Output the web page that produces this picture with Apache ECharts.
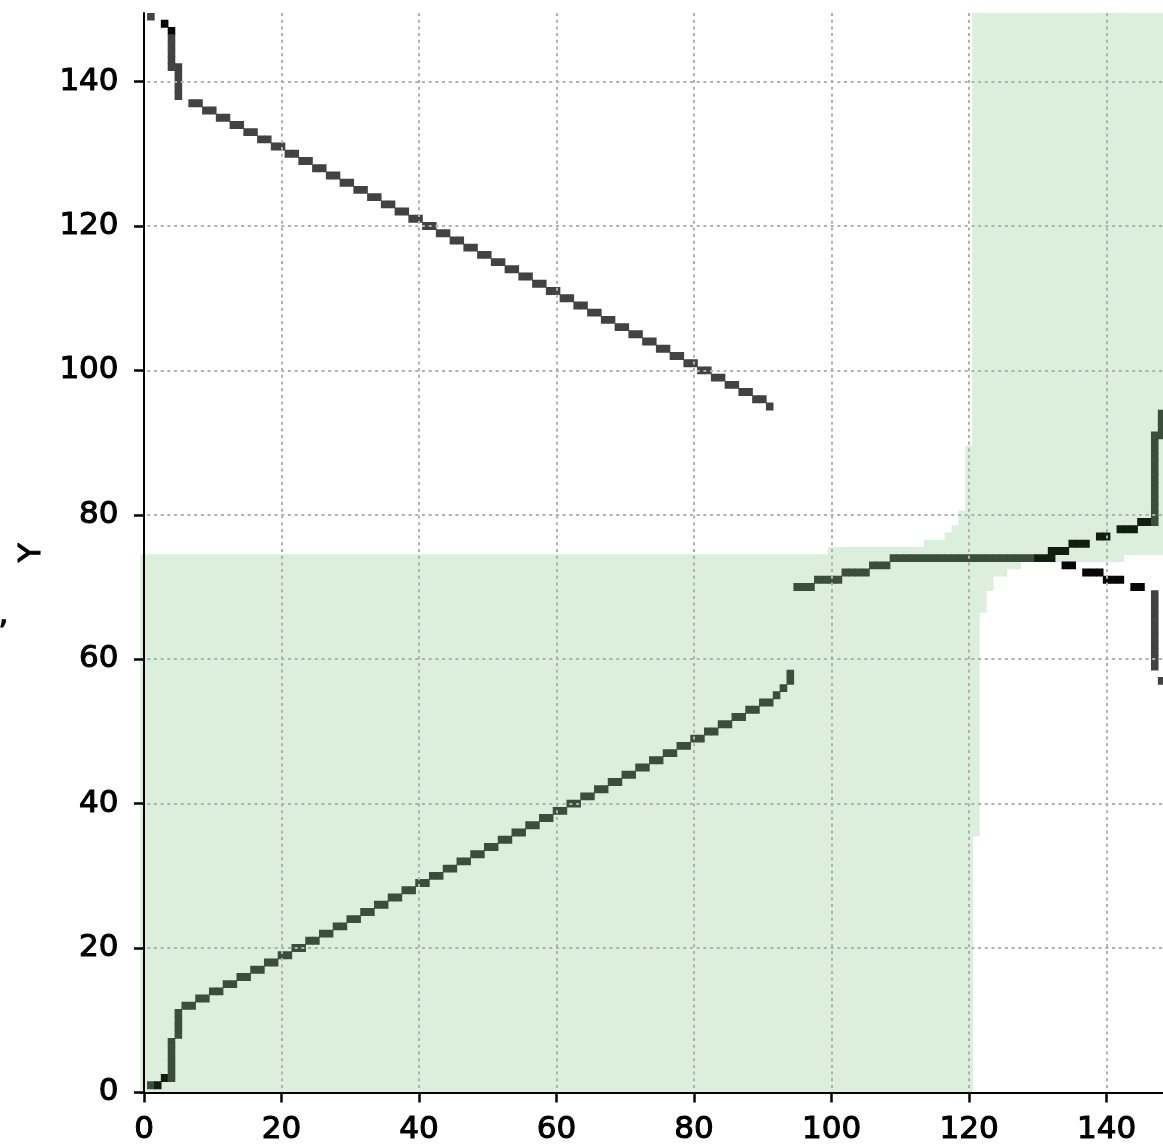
<!DOCTYPE html>
<html><head><meta charset="utf-8">
<script src="https://cdn.jsdelivr.net/npm/echarts@6/dist/echarts.min.js"></script>
<style>html,body{margin:0;padding:0;background:#fff}#c{width:1163px;height:1146px}</style>
</head><body><div id="c"></div>
<script>
// tick values
const xTicks = [0, 20, 40, 60, 80, 100, 120, 140];
const yTicks = [0, 20, 40, 60, 80, 100, 120, 140];

// lower-left green region: [rowStart, rowEnd, lastCol]  (cols 0..lastCol)
const lowerRegion = [[0,35,120],[36,66,121],[67,69,122],[70,71,123],[72,72,125],[73,73,127],[74,74,142]];
// upper-right green region: [rowStart, rowEnd, firstCol] (cols firstCol..149)
const upperRegion = [[75,75,100],[76,76,114],[77,77,117],[78,78,118],[79,80,119],[81,89,120],[90,149,121]];

// line pixels, horizontal runs: [row, firstCol, lastCol, dark]
const upperLineH = [
  [149,1,1,0],[148,3,3,1],[142,4,5,0],
  [137,7,8,0],[136,9,10,0],[135,11,12,0],[134,13,14,0],[133,15,16,0],[132,17,18,0],[131,19,20,0],
  [130,21,22,0],[129,23,24,0],[128,25,26,0],[127,27,28,0],[126,29,30,0],[125,31,32,0],[124,33,34,0],
  [123,35,36,0],[122,37,38,0],[121,39,40,0],[120,41,42,0],[119,43,44,0],[118,45,46,0],[117,47,48,0],
  [116,49,50,0],[115,51,52,0],[114,53,54,0],[113,55,56,0],[112,57,58,0],[111,59,60,0],[110,61,62,0],
  [109,63,64,0],[108,65,66,0],[107,67,68,0],[106,69,70,0],[105,71,72,0],[104,73,74,0],[103,75,76,0],
  [102,77,78,0],[101,79,80,0],[100,81,82,0],[99,83,84,0],[98,85,86,0],[97,87,88,0],[96,89,90,0],[95,91,91,0]
];
// vertical runs: [col, firstRow, lastRow, dark]
const upperLineV = [[4,147,147,1],[4,143,146,0],[5,138,141,0]];

const lowerLineH = [
  [1,1,1,0],[1,2,2,1],[2,3,3,1],[2,4,4,0],
  [12,6,7,0],[13,8,9,0],[14,10,11,0],[15,12,13,0],[16,14,15,0],[17,16,17,0],[18,18,19,0],[19,20,21,0],
  [20,22,23,0],[21,24,25,0],[22,26,27,0],[23,28,29,0],[24,30,31,0],[25,32,33,0],[26,34,35,0],[27,36,37,0],
  [28,38,39,0],[29,40,41,0],[30,42,43,0],[31,44,45,0],[32,46,47,0],[33,48,49,0],[34,50,51,0],[35,52,53,0],
  [36,54,55,0],[37,56,57,0],[38,58,59,0],[39,60,61,0],[40,62,63,0],[41,64,65,0],[42,66,67,0],[43,68,69,0],
  [44,70,71,0],[45,72,73,0],[46,74,75,0],[47,76,77,0],[48,78,79,0],[49,80,81,0],[50,82,83,0],[51,84,85,0],
  [52,86,87,0],[53,88,89,0],[54,90,91,0],[55,92,92,0],[56,93,93,0],[57,94,94,0],[58,94,94,0]
];
const lowerLineV = [[4,3,7,0],[5,8,11,0]];

const crossLineH = [
  [70,95,97,0],[71,98,101,0],[72,102,105,0],[73,106,108,0],[74,109,129,0],[74,130,132,1],
  [75,132,134,1],[76,135,137,1],[77,139,140,1],[78,142,144,1],[79,145,146,1],
  [73,134,135,1],[72,137,139,1],[71,140,142,1],[70,144,145,1],[57,148,148,0]
];
const crossLineV = [[147,79,91,0],[148,91,94,0],[147,59,69,0]];

// colours: 0 green bg, 1 line on white, 2 line on green, 3 dark on green, 4 dark on white
const palette = ['#dcefdc', '#424242', '#3b4d3b', '#102010', '#070707'];

function inLower(r, c) { for (const [a, b, last] of lowerRegion) if (r >= a && r <= b) return c <= last; return false; }
function inUpper(r, c) { for (const [a, b, first] of upperRegion) if (r >= a && r <= b) return c >= first; return false; }

const regionData = [];
lowerRegion.forEach(([a, b, last]) => regionData.push([0, last, a, b, 0]));
upperRegion.forEach(([a, b, first]) => regionData.push([first, 149, a, b, 0]));

const lineData = [];
function addCell(r, c, d) {
  const bg = inLower(r, c) || inUpper(r, c);
  const idx = d ? (bg ? 3 : 4) : (bg ? 2 : 1);
  lineData.push([c, c, r, r, idx]);
}
[upperLineH, lowerLineH, crossLineH].forEach(list => list.forEach(([r, c0, c1, d]) => { for (let c = c0; c <= c1; c++) addCell(r, c, d); }));
[upperLineV, lowerLineV, crossLineV].forEach(list => list.forEach(([c, r0, r1, d]) => { for (let r = r0; r <= r1; r++) addCell(r, c, d); }));

function renderItem(params, api) {
  const x0 = api.value(0), x1 = api.value(1), y0 = api.value(2), y1 = api.value(3);
  const p0 = api.coord([x0 - 0.5, y1 + 0.5]);
  const p1 = api.coord([x1 + 0.5, y0 - 0.5]);
  const pad = 0.35;
  return {
    type: 'rect',
    shape: { x: p0[0] - pad, y: p0[1] - pad, width: p1[0] - p0[0] + 2 * pad, height: p1[1] - p0[1] + 2 * pad },
    style: { fill: palette[api.value(4)] }
  };
}

const font = 'DejaVu Sans';
const labelStyle = { fontSize: 31, color: '#000', fontFamily: font, textBorderColor: '#000', textBorderWidth: 1.1 };
const axisCommon = {
  type: 'value',
  z: 10,
  axisLine: { show: true, onZero: true, lineStyle: { color: '#000', width: 2 } },
  splitLine: { show: true, lineStyle: { color: '#b0b0b0', width: 2, type: [3, 3.7] } }
};

const chart = echarts.init(document.getElementById('c'), null, { renderer: 'canvas' });
chart.setOption({
  animation: false,
  backgroundColor: '#fff',
  grid: { left: 140.56, right: 0, top: 13, bottom: 52, containLabel: false },
  xAxis: Object.assign({}, axisCommon, {
    min: -0.5, max: 148.2,
    axisTick: { show: true, length: 10, customValues: xTicks, lineStyle: { color: '#000', width: 2.5 } },
    axisLabel: Object.assign({ customValues: xTicks, margin: 22 }, labelStyle)
  }),
  yAxis: Object.assign({}, axisCommon, {
    min: 0, max: 149.5,
    name: 'Y', nameLocation: 'middle', nameRotate: 90, nameGap: 92,
    nameTextStyle: Object.assign({}, labelStyle),
    axisTick: { show: true, length: 10, customValues: yTicks, lineStyle: { color: '#000', width: 2.5 } },
    axisLabel: Object.assign({ customValues: yTicks, margin: 22 }, labelStyle)
  }),
  graphic: [{
    type: 'text', left: -2, top: 599, z: 20,
    style: { text: ',', fontSize: 31, fontFamily: font, fill: '#000', stroke: '#000', lineWidth: 1.1 }
  }],
  series: [
    { type: 'custom', z: 1, clip: true, renderItem, data: regionData, encode: { x: [0, 1], y: [2, 3] }, silent: true },
    { type: 'custom', z: 2, clip: true, renderItem, data: lineData, encode: { x: [0, 1], y: [2, 3] }, silent: true }
  ]
});
</script></body></html>
